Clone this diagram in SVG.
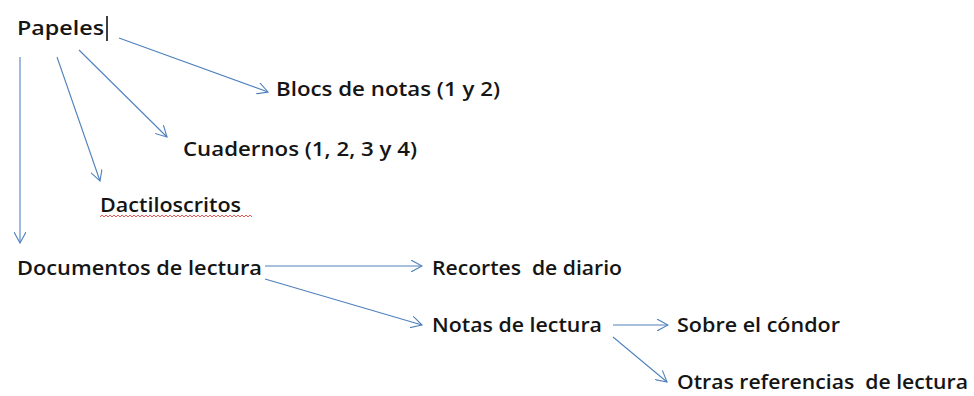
<svg xmlns="http://www.w3.org/2000/svg" width="974" height="396" viewBox="0 0 974 396">
<style>
text{font-family:"Open Sans","Liberation Sans",sans-serif;font-size:19.5px;font-weight:600;fill:#151515;}
.c{stroke:#4f81bd;stroke-width:1.1;fill:none;marker-end:url(#a);}
</style>
<defs>
<marker id="a" viewBox="0 0 12 12" refX="11" refY="6" markerWidth="12" markerHeight="12" markerUnits="userSpaceOnUse" orient="auto">
<path d="M0,0 L11,6 L0,12" fill="none" stroke="#4f81bd" stroke-width="1.1"/>
</marker>
</defs>
<rect width="974" height="396" fill="#fff"/>
<g id="connectors">
<line class="c" x1="119" y1="38" x2="268" y2="92"/>
<line class="c" x1="79" y1="50" x2="167" y2="137"/>
<line class="c" x1="57" y1="57" x2="100" y2="181"/>
<line class="c" x1="20" y1="57" x2="20" y2="243"/>
<line class="c" x1="265" y1="266" x2="422" y2="266"/>
<line class="c" x1="265" y1="279" x2="422" y2="325"/>
<line class="c" x1="613" y1="325" x2="668" y2="325"/>
<line class="c" x1="613" y1="337" x2="667" y2="382"/>
</g>
<g id="papeles"><text x="17" y="35" font-size="22" textLength="87" lengthAdjust="spacingAndGlyphs">Papeles</text><line x1="107" y1="16" x2="107" y2="41" stroke="#000" stroke-width="1.5"/></g>
<g id="blocs"><text x="276" y="96" textLength="224" lengthAdjust="spacingAndGlyphs">Blocs de notas (1 y 2)</text></g>
<g id="cuadernos"><text x="183" y="156" textLength="234" lengthAdjust="spacingAndGlyphs">Cuadernos (1, 2, 3 y 4)</text></g>
<g id="dactiloscritos"><text x="100" y="212" textLength="141" lengthAdjust="spacingAndGlyphs">Dactiloscritos</text><path d="M100,217 l2,-2 l2,2 l2,-2 l2,2 l2,-2 l2,2 l2,-2 l2,2 l2,-2 l2,2 l2,-2 l2,2 l2,-2 l2,2 l2,-2 l2,2 l2,-2 l2,2 l2,-2 l2,2 l2,-2 l2,2 l2,-2 l2,2 l2,-2 l2,2 l2,-2 l2,2 l2,-2 l2,2 l2,-2 l2,2 l2,-2 l2,2 l2,-2 l2,2 l2,-2 l2,2 l2,-2 l2,2 l2,-2 l2,2 l2,-2 l2,2 l2,-2 l2,2 l2,-2 l2,2 l2,-2 l2,2 l2,-2 l2,2 l2,-2 l2,2 l2,-2 l2,2 l2,-2 l2,2 l2,-2 l2,2 l2,-2 l2,2 l2,-2 l2,2 l2,-2 l2,2 l2,-2 l2,2 l2,-2 l2,2 l2,-2 l2,2 l2,-2 l2,2 l2,-2 l2,2" fill="none" stroke="#e03030" stroke-width="0.8"/></g>
<g id="documentos"><text x="17" y="275" textLength="245" lengthAdjust="spacingAndGlyphs">Documentos de lectura</text></g>
<g id="recortes"><text x="432" y="275" textLength="190" lengthAdjust="spacingAndGlyphs">Recortes&#160; de diario</text></g>
<g id="notas"><text x="432" y="332" textLength="170" lengthAdjust="spacingAndGlyphs">Notas de lectura</text></g>
<g id="sobre"><text x="677" y="332" textLength="163" lengthAdjust="spacingAndGlyphs">Sobre el cóndor</text></g>
<g id="otras"><text x="677" y="389" textLength="291" lengthAdjust="spacingAndGlyphs">Otras referencias&#160; de lectura</text></g>
</svg>
